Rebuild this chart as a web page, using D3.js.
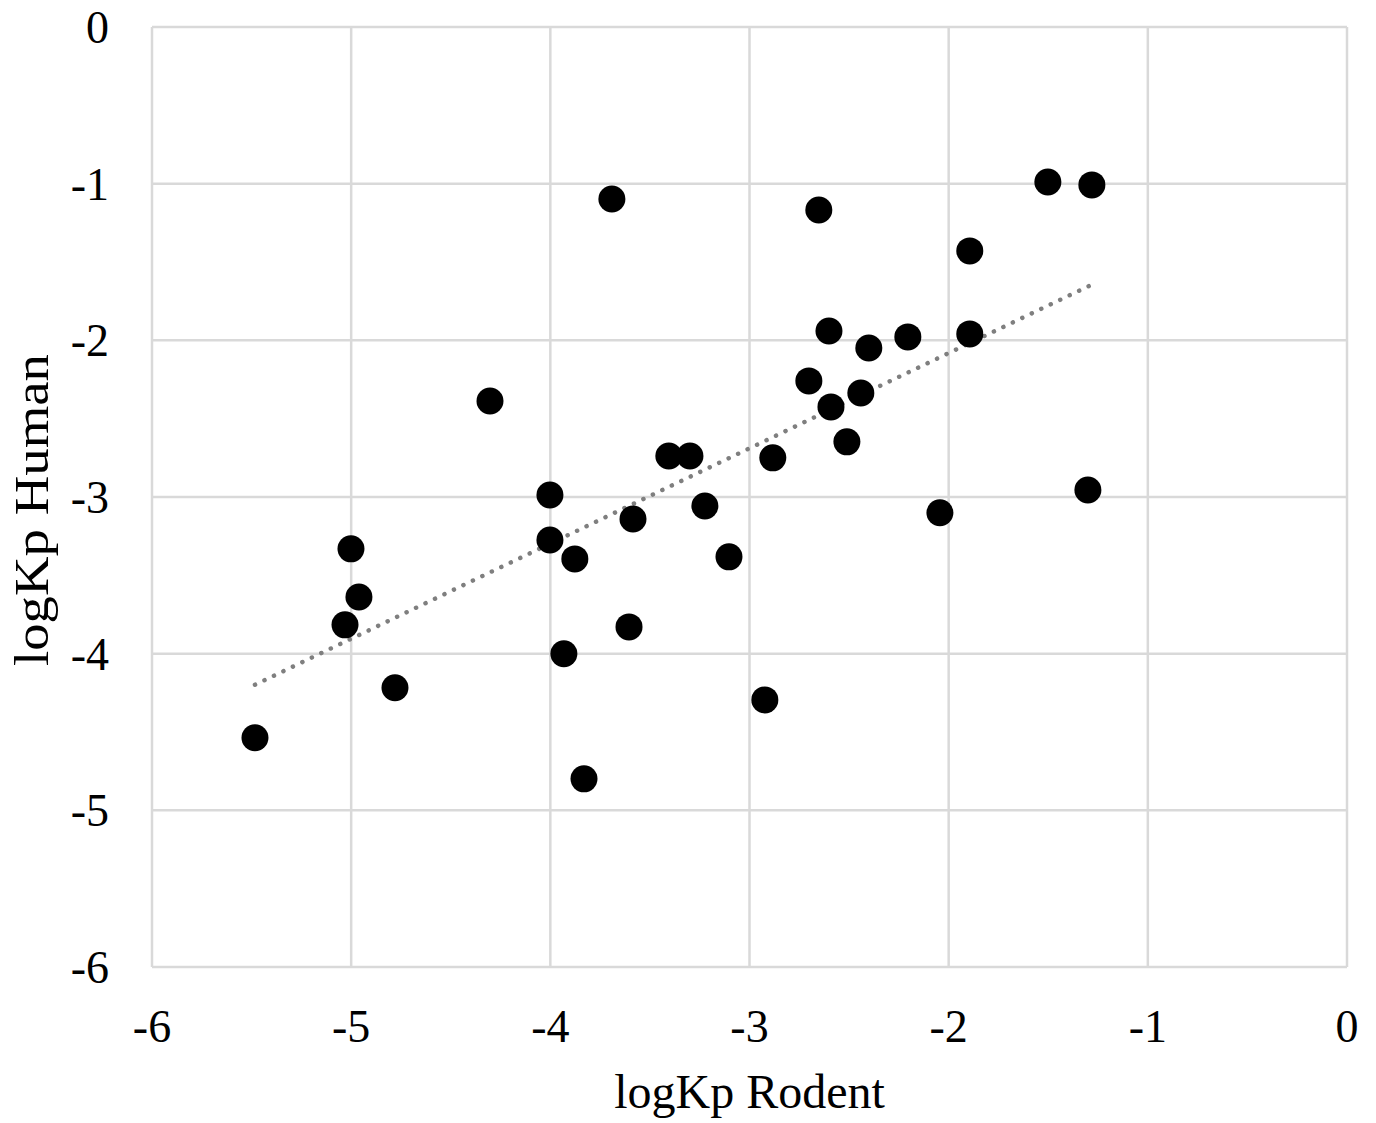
<!DOCTYPE html>
<html>
<head>
<meta charset="utf-8">
<script src="https://cdn.jsdelivr.net/npm/d3@7"></script>
<style>
  html, body { margin: 0; padding: 0; background: #fff; }
  svg { display: block; }
  text { font-family: "Liberation Serif", "Times New Roman", serif; fill: #000; }
</style>
</head>
<body>
<svg id="chart" width="1376" height="1123"></svg>
<script>
const rodent = [-5.483, -5.031, -5.001, -4.961, -4.780, -4.303, -4.002, -4.002, -3.877, -3.932,
  -3.831, -3.691, -3.585, -3.605, -3.405, -3.299, -3.224, -3.103, -2.923, -2.883,
  -2.702, -2.652, -2.601, -2.591, -2.511, -2.441, -2.401, -2.205, -2.044, -1.894,
  -1.894, -1.502, -1.281, -1.301];
const human = [-4.537, -3.816, -3.331, -3.638, -4.218, -2.387, -2.987, -3.274, -3.395, -4.001,
  -4.799, -1.098, -3.140, -3.829, -2.738, -2.738, -3.057, -3.382, -4.295, -2.750,
  -2.259, -1.168, -1.940, -2.425, -2.648, -2.336, -2.049, -1.978, -3.101, -1.429,
  -1.959, -0.989, -1.008, -2.955];
const xTicks = [-6, -5, -4, -3, -2, -1, 0];
const yTicks = [0, -1, -2, -3, -4, -5, -6];
const xTitle = "logKp Rodent";
const yTitle = "logKp Human";

(function () {
const svg = d3.select("#chart");
const pL = 152, pR = 1347, pT = 27, pB = 967;
const x = d3.scaleLinear().domain([-6, 0]).range([pL, pR]);
const y = d3.scaleLinear().domain([-6, 0]).range([pB, pT]);

const gridColor = "#d9d9d9";
svg.append("g").selectAll("line").data(xTicks).join("line")
  .attr("x1", d => x(d)).attr("x2", d => x(d))
  .attr("y1", pT).attr("y2", pB)
  .attr("stroke", gridColor).attr("stroke-width", 2.5);
svg.append("g").selectAll("line").data(yTicks).join("line")
  .attr("x1", pL).attr("x2", pR)
  .attr("y1", d => y(d)).attr("y2", d => y(d))
  .attr("stroke", gridColor).attr("stroke-width", 2.5);

svg.append("g").selectAll("text").data(xTicks).join("text")
  .attr("x", d => x(d)).attr("y", 1042)
  .attr("text-anchor", "middle").attr("font-size", 46)
  .text(d => d);
svg.append("g").selectAll("text").data(yTicks).join("text")
  .attr("x", 109).attr("y", d => y(d) + 16)
  .attr("text-anchor", "end").attr("font-size", 46)
  .text(d => d);

const n = rodent.length;
const mx = d3.mean(rodent), my = d3.mean(human);
let sxy = 0, sxx = 0;
for (let i = 0; i < n; i++) { sxy += (rodent[i] - mx) * (human[i] - my); sxx += (rodent[i] - mx) ** 2; }
const slope = sxy / sxx, intercept = my - slope * mx;
const [x0, x1] = d3.extent(rodent);
svg.append("line")
  .attr("x1", x(x0)).attr("y1", y(slope * x0 + intercept))
  .attr("x2", x(x1)).attr("y2", y(slope * x1 + intercept))
  .attr("stroke", "#7f7f7f").attr("stroke-width", 4.5)
  .attr("stroke-linecap", "round").attr("stroke-dasharray", "0.1 10.4");

svg.append("g").selectAll("circle").data(rodent).join("circle")
  .attr("cx", d => x(d)).attr("cy", (d, i) => y(human[i]))
  .attr("r", 13.5).attr("fill", "#000");

svg.append("text").attr("x", (pL + pR) / 2).attr("y", 1108)
  .attr("text-anchor", "middle").attr("font-size", 48).text(xTitle);
svg.append("text").attr("transform", `translate(48, 510) rotate(-90)`)
  .attr("text-anchor", "middle").attr("font-size", 48)
  .attr("textLength", 312).attr("lengthAdjust", "spacingAndGlyphs")
  .text(yTitle);
})();
</script>
</body>
</html>
